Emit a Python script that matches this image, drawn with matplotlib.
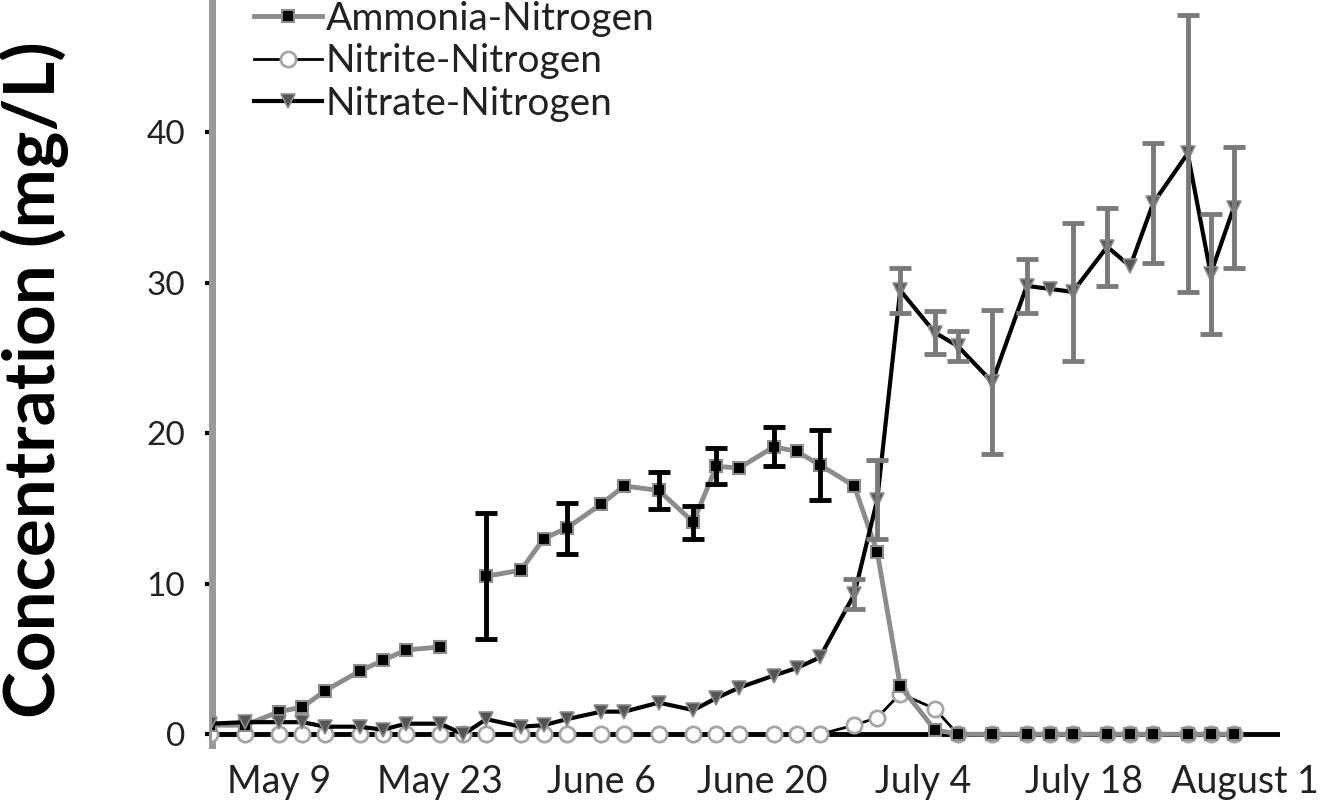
import numpy as np
import matplotlib.pyplot as plt

# sampling days, counted from May 9
days = [-6, -3, 0, 2, 4, 7, 9, 11, 14, 16, 18, 21, 23, 25, 28, 30, 33,
        36, 38, 40, 43, 45, 47, 50, 52, 54, 57, 59, 62, 65, 67, 69, 72,
        74, 76, 79, 81, 83]

ammonia = [0.6, 0.6, 1.5, 1.8, 2.9, 4.2, 4.9, 5.6, 5.8, np.nan, 10.5, 10.9,
           13.0, 13.7, 15.3, 16.5, 16.2, 14.1, 17.8, 17.7, 19.1, 18.8, 17.9,
           16.5, 12.1, 3.2, 0.3, 0, 0, 0, 0, 0, 0, 0, 0, 0, 0, 0]
ammonia_err = [0, 0, 0, 0, 0, 0, 0, 0, 0, 0, 4.2, 0, 0, 1.7, 0, 0, 1.2,
               1.1, 1.2, 0, 1.3, 0, 2.3, 0, 0, 0, 0, 0, 0, 0, 0, 0, 0, 0,
               0, 0, 0, 0]

nitrite = [0, 0, 0, 0, 0, 0, 0, 0, 0, 0, 0, 0, 0, 0, 0, 0, 0, 0, 0, 0, 0,
           0, 0, 0.6, 1.1, 2.7, 1.7, 0, 0, 0, 0, 0, 0, 0, 0, 0, 0, 0]

nitrate = [0.7, 0.8, 0.8, 0.8, 0.5, 0.5, 0.3, 0.7, 0.7, 0.0, 1.0, 0.5, 0.6,
           1.0, 1.5, 1.5, 2.1, 1.6, 2.4, 3.1, 3.9, 4.4, 5.1, 9.3, 15.6, 29.5,
           26.7, 25.8, 23.4, 29.8, 29.6, 29.4, 32.4, 31.1, 35.3, 38.6, 30.6,
           35.0]
nitrate_err = [0, 0, 0, 0, 0, 0, 0, 0, 0, 0, 0, 0, 0, 0, 0, 0, 0, 0, 0, 0,
               0, 0, 0, 1.0, 2.6, 1.5, 1.4, 1.0, 4.8, 1.8, 0, 4.6, 2.6, 0,
               4.0, 9.2, 4.0, 4.0]

tick_days = [0, 14, 28, 42, 56, 70, 84]
tick_labels = ['May 9', 'May 23', 'June 6', 'June 20', 'July 4', 'July 18', 'August 1']

plt.rcParams['font.family'] = ['Lato', 'DejaVu Sans']

days = np.array(days)
ammonia_err = np.array(ammonia_err)
nitrate_err = np.array(nitrate_err)

fig = plt.figure(figsize=(13.22, 8.06), dpi=100)
ax = fig.add_axes([0.160, 0.076, 0.808, 0.924])

ax.axhline(0, color='black', lw=3.5, zorder=1)

ax.plot(days, ammonia, color='#8c8c8c', lw=3.5, marker='s', ms=9,
        mfc='black', mec='#8c8c8c', mew=1.5, label='Ammonia-Nitrogen', zorder=4)
ax.plot(days, nitrite, color='black', lw=2, marker='o', ms=11,
        mfc='white', mec='#a6a6a6', mew=2, label='Nitrite-Nitrogen', zorder=3)
ax.plot(days, nitrate, color='black', lw=3, marker='v', ms=10,
        mfc='#555555', mec='#8c8c8c', mew=1.2, label='Nitrate-Nitrogen', zorder=4)

m = ammonia_err > 0
ax.errorbar(days[m], np.array(ammonia)[m], yerr=ammonia_err[m], fmt='none',
            ecolor='black', elinewidth=3.5, capsize=8, capthick=3.5, zorder=5)
m = nitrate_err > 0
ax.errorbar(days[m], np.array(nitrate)[m], yerr=nitrate_err[m], fmt='none',
            ecolor='#7a7a7a', elinewidth=3.5, capsize=8, capthick=3.5, zorder=5)

ax.set_xlim(-5.9, 87)
ax.set_ylim(-0.7, 48.8)

for s in ['top', 'right', 'bottom']:
    ax.spines[s].set_visible(False)
ax.spines['left'].set_color('#999999')
ax.spines['left'].set_linewidth(5)

ax.set_yticks([0, 10, 20, 30, 40])
ax.tick_params(axis='y', length=5, width=3, color='black', pad=14,
               labelsize=24, labelcolor='#222222')
ax.set_xticks(tick_days)
ax.set_xticklabels(tick_labels)
ax.tick_params(axis='x', length=0, pad=14, labelsize=27, labelcolor='#222222')

ax.set_ylabel('Concentration (mg/L)', fontsize=51, fontweight='bold')
ax.yaxis.set_label_coords(-0.133, 0.49)

ax.legend(loc='upper left', bbox_to_anchor=(0.025, 1.02), frameon=False,
          fontsize=28, handlelength=1.75, handletextpad=0.1, labelspacing=0.17,
          borderaxespad=0, labelcolor='#222222')

fig.savefig('out.png', dpi=100)
